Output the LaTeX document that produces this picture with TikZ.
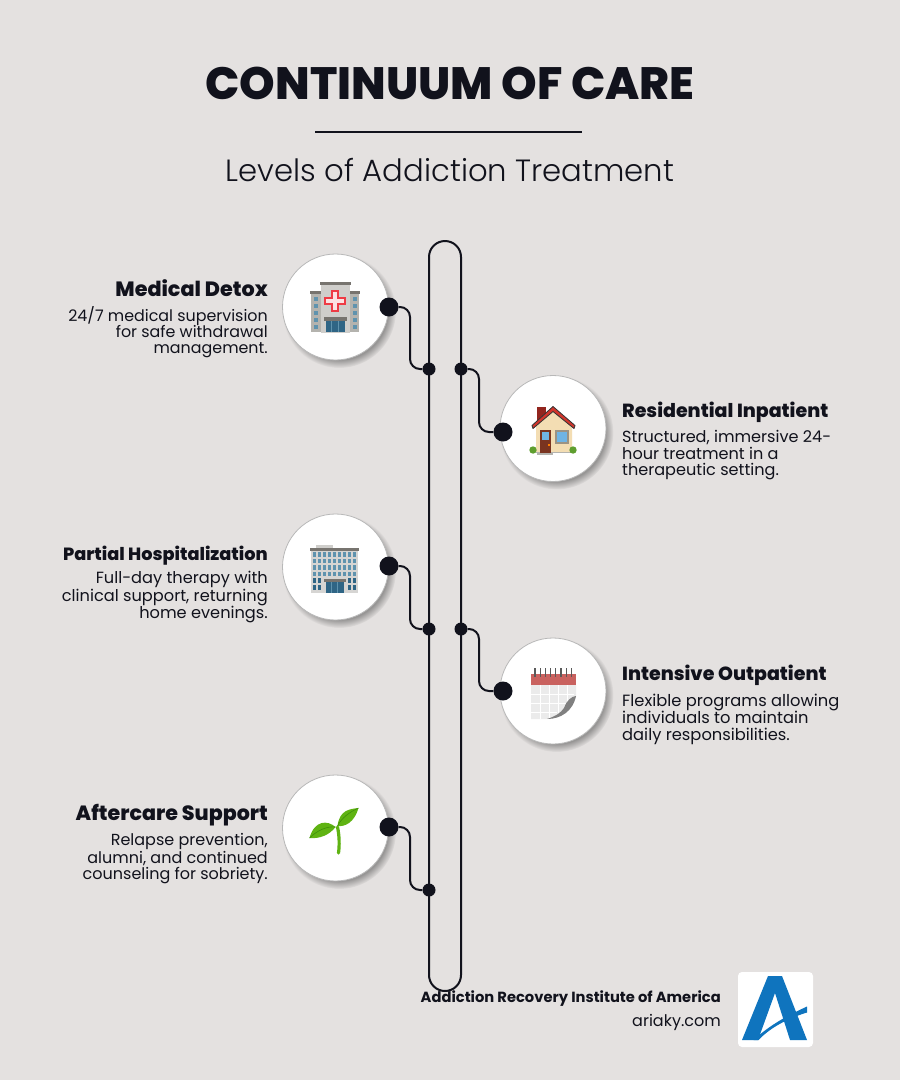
\documentclass[tikz,border=0pt]{standalone}
\usepackage{fontspec}
\setmainfont{Poppins}
\newfontfamily\titlefont{Poppins ExtraBold}
\newfontfamily\lightfont{Poppins Light}
\usetikzlibrary{calc}
\usetikzlibrary{shadows}
\definecolor{paperBg}{HTML}{E4E1E0}
\definecolor{inkDark}{HTML}{11121C}
\definecolor{logoBlue}{HTML}{0F74BE}
\definecolor{wallGrey}{HTML}{CFCECB}
\definecolor{wingGrey}{HTML}{B4B3AE}
\definecolor{roofGrey}{HTML}{77746F}
\definecolor{glassBlue}{HTML}{2F6585}
\definecolor{paneBlue}{HTML}{5F93AE}
\definecolor{crossRed}{HTML}{EE3B45}
\definecolor{roofRed}{HTML}{D1352B}
\definecolor{wallCream}{HTML}{F3DDB3}
\definecolor{doorBrown}{HTML}{7A3420}
\definecolor{skyBlue}{HTML}{6FB4E4}
\definecolor{bushGreen}{HTML}{5E9E2E}
\definecolor{calRed}{HTML}{C9625F}
\definecolor{calPaper}{HTML}{EBEBEB}
\definecolor{leafGreen}{HTML}{5FB312}
\definecolor{leafDark}{HTML}{3E8E0B}

\begin{document}
\begin{tikzpicture}[x=1pt, y=-1pt,
	iconCircle/.style={circle, draw=black!28, line width=0.8pt, fill=white, minimum size=106pt, inner sep=0pt,
		circular drop shadow={shadow xshift=3.5pt, shadow yshift=-4pt, shadow scale=1.07, opacity=0.5, fill=black!70}},
	portDot/.style={circle, fill=inkDark, minimum size=19pt, inner sep=0pt},
	tapDot/.style={circle, fill=inkDark, minimum size=13pt, inner sep=0pt},
	linkLine/.style={draw=inkDark, line width=2pt, rounded corners=10pt},
	headLeft/.style={anchor=east, inner sep=0pt, text=inkDark, font=\fontsize{#1}{20}\selectfont\titlefont},
	headRight/.style={anchor=west, inner sep=0pt, text=inkDark, font=\fontsize{#1}{20}\selectfont\titlefont},
	bodyLeft/.style={anchor=north east, inner sep=0pt, align=right, text=inkDark, font=\fontsize{#1}{16.3}\selectfont},
	bodyRight/.style={anchor=north west, inner sep=0pt, align=left, text=inkDark, font=\fontsize{#1}{16.3}\selectfont}]
	\useasboundingbox (0,0) rectangle (900,1080);
	\fill[paperBg] (0,0) rectangle (900,1080);

	% Title
	\node[inner sep=0pt, text=inkDark, font=\fontsize{45.3}{48}\selectfont\titlefont] (title) at (450,83) {CONTINUUM OF CARE};
	\coordinate (ruleL) at (315,132);
	\coordinate (ruleR) at (582,132);
	\draw[inkDark, line width=2pt] (ruleL) -- (ruleR);
	\node[inner sep=0pt, text=inkDark, font=\fontsize{30.7}{32}\selectfont\lightfont] (subtitle) at (450,170) {Levels of Addiction Treatment};

	% Track
	\node[draw=inkDark, line width=2pt, rounded corners=16pt, minimum width=32pt, minimum height=750pt, inner sep=0pt, outer sep=0pt] (track) at (445,616) {};

	% Tap dots on the track
	\node[tapDot] (detoxTap) at (429,369) {};
	\node[tapDot] (inpatientTap) at (461,369) {};
	\node[tapDot] (partialTap) at (429,629) {};
	\node[tapDot] (outpatientTap) at (461,629) {};
	\node[tapDot] (aftercareTap) at (429,890) {};

	% Circles
	\node[iconCircle] (detox) at (335.5,307) {};
	\node[iconCircle] (inpatient) at (553,428.5) {};
	\node[iconCircle] (partial) at (335.5,567) {};
	\node[iconCircle] (outpatient) at (553,691) {};
	\node[iconCircle] (aftercare) at (335.5,828) {};

	% Ports
	\node[portDot] (detoxPort) at (389,307) {};
	\node[portDot] (inpatientPort) at (503,432) {};
	\node[portDot] (partialPort) at (389,566) {};
	\node[portDot] (outpatientPort) at (503,691) {};
	\node[portDot] (aftercarePort) at (389,827) {};

	\draw[linkLine] (detoxPort) -| ($(detoxTap)+(-19,0)$) -- (detoxTap);
	\draw[linkLine] (inpatientTap) -| ($(inpatientTap)+(18,32)$) |- (inpatientPort);
	\draw[linkLine] (partialPort) -| ($(partialTap)+(-19,0)$) -- (partialTap);
	\draw[linkLine] (outpatientTap) -| ($(outpatientTap)+(18,32)$) |- (outpatientPort);
	\draw[linkLine] (aftercarePort) -| ($(aftercareTap)+(-19,0)$) -- (aftercareTap);

	% Hospital icon
	\begin{scope}[shift={(detox.center)}]
		\fill[wingGrey] (-25,-15) rectangle (23,25);
		\fill[roofGrey] (-26,-16) rectangle (24,-13);
		\fill[wallGrey] (-15,-24) rectangle (14,26);
		\fill[roofGrey] (-16,-25) rectangle (15,-22);
		\foreach \rowY in {-10,-3,4,11,18} {
			\fill[paneBlue] (-22,\rowY) rectangle (-18,\rowY+4);
			\fill[paneBlue] (17,\rowY) rectangle (21,\rowY+4);
		}
		\fill[crossRed] (-5,-17) rectangle (3,5);
		\fill[crossRed] (-12,-10) rectangle (10,-2);
		\fill[white!85!crossRed] (-3,-15) rectangle (1,3);
		\fill[white!85!crossRed] (-10,-8) rectangle (8,-4);
		\fill[roofGrey] (-12,10) rectangle (11,14);
		\fill[glassBlue] (-10,14) rectangle (9,25);
		\draw[paneBlue, line width=0.7pt] (-4,14) -- (-4,25) (3,14) -- (3,25);
	\end{scope}

	% House icon
	\begin{scope}[shift={(inpatient.center)}]
		\fill[roofRed!70!black] (-16,-22) rectangle (-7,-8);
		\fill[wallCream] (-17,-5) -- (0,-19) -- (19,-5) -- (19,24) -- (-17,24) -- cycle;
		\fill[wingGrey] (-17,23) rectangle (19,24);
		\fill[roofRed, draw=black!80, line width=0.8pt, line join=round] (-21,-3) -- (0,-22) -- (22,-3) -- (21,0) -- (0,-17) -- (-20,0) -- cycle;
		\fill[doorBrown] (-13,1) rectangle (-2,24);
		\fill[skyBlue] (-11,3) rectangle (-4,11);
		\fill[orange] (-5,15) rectangle (-3.5,17);
		\fill[roofGrey!70!wallCream] (2,1) rectangle (16,15);
		\fill[skyBlue] (4,3) rectangle (14,13);
		\fill[wingGrey] (-16,24) rectangle (0,26);
		\fill[bushGreen] (-20,21.5) circle (3.7);
		\fill[bushGreen] (20,21.5) circle (3.7);
	\end{scope}

	% Office icon
	\begin{scope}[shift={(partial.center)}]
		\fill[wallGrey] (-20,-22) rectangle (-3,-18);
		\fill[wallGrey!85!white] (-25,-18) rectangle (22,26);
		\fill[roofGrey] (-25.5,-19) rectangle (23,-16);
		\foreach \colX in {-21,-16,-11,-6,-1,4,9,14,19} {
			\foreach \rowY in {-13,-6.5,0,6.5} {
				\fill[paneBlue] (\colX-1.5,\rowY-2) rectangle (\colX+1.5,\rowY+2.5);
			}
		}
		\foreach \colX in {-21,-16,14,19} {
			\foreach \rowY in {13,20} {
				\fill[glassBlue] (\colX-1.5,\rowY-2) rectangle (\colX+1.5,\rowY+2.5);
			}
		}
		\fill[roofGrey] (-12,12) rectangle (10,15);
		\fill[glassBlue] (-10,15) rectangle (8,26);
		\draw[paneBlue, line width=0.7pt] (-4,15) -- (-4,26) (2,15) -- (2,26);
	\end{scope}

	% Calendar icon
	\begin{scope}[shift={(outpatient.center)}]
		\fill[calPaper] (-22,-6) -- (23,-6) -- (23,5) .. controls (18,18) and (8,26) .. (-6,28) -- (-22,28) -- cycle;
		\draw[white, line width=0.6pt] (-22,3) -- (21,3) (-22,12) -- (16,12) (-22,21) -- (4,21)
			(-13,-6) -- (-13,28) (-4,-6) -- (-4,27) (5,-6) -- (5,25) (14,-6) -- (14,16);
		\fill[calRed] (-22,-17) rectangle (23,-6);
		\fill[black!50] (23,5) .. controls (19,5) and (13,10) .. (11,17) .. controls (8,22) and (1,26) .. (-6,28) .. controls (8,28) and (20,20) .. cycle;
		\foreach \colX in {-18,-12.8,-7.6,-2.4,2.8,8,13.2,18.4} {
			\draw[black!65, line width=1.3pt] (\colX,-23) -- (\colX,-14);
		}
	\end{scope}

	% Sprout icon
	\begin{scope}[shift={(aftercare.center)}]
		\draw[leafGreen, line width=3.2pt, line cap=round] (2,-1) .. controls (4,8) and (4,18) .. (3,25);
		\fill[leafGreen] (0,-1) .. controls (-8,-8) and (-21,-8) .. (-26,10) .. controls (-16,11) and (-6,7) .. cycle;
		\draw[leafDark, line width=0.6pt] (0,-1) .. controls (-8,-2) and (-18,2) .. (-26,10);
		\fill[leafGreen] (2,-2) .. controls (10,-1) and (19,-6) .. (23,-20) .. controls (14,-19) and (4,-18) .. cycle;
		\draw[leafDark, line width=0.6pt] (2,-2) .. controls (6,-10) and (14,-16) .. (23,-20);
	\end{scope}

	% Left labels
	\node[headLeft=20.7] (detoxHead) at (268,288.5) {Medical Detox};
	\node[bodyLeft=15.9] (detoxText) at (268,306) {24/7 medical supervision\\for safe withdrawal\\management.};
	\node[headLeft=17.7] (partialHead) at (268,555.5) {Partial Hospitalization};
	\node[bodyLeft=16.2] (partialText) at (268,571) {Full-day therapy with\\clinical support, returning\\home evenings.};
	\node[headLeft=20.6] (aftercareHead) at (268,815.5) {Aftercare Support};
	\node[bodyLeft=16] (aftercareText) at (268,833.5) {Relapse prevention,\\alumni, and continued\\counseling for sobriety.};

	% Right labels
	\node[headRight=19] (inpatientHead) at (622,412.5) {Residential Inpatient};
	\node[bodyRight=16.1] (inpatientText) at (622,430.5) {Structured, immersive 24-\\hour treatment in a\\therapeutic setting.};
	\node[headRight=19] (outpatientHead) at (622,675.5) {Intensive Outpatient};
	\node[bodyRight=16.3] (outpatientText) at (622,693.5) {Flexible programs allowing\\individuals to maintain\\daily responsibilities.};

	% Footer
	\node[anchor=east, inner sep=0pt, text=inkDark, font=\fontsize{14.7}{16}\selectfont\bfseries] (orgName) at (721,998.5) {Addiction Recovery Institute of America};
	\node[anchor=east, inner sep=0pt, text=inkDark, font=\fontsize{16}{17}\selectfont] (orgSite) at (721,1022) {ariaky.com};
	\node[fill=white, rounded corners=4pt, minimum size=75pt, inner sep=0pt] (logo) at (775.5,1009.5) {};
	\begin{scope}[shift={(logo.center)}]
		\fill[logoBlue] (-7.5,-33.5) -- (6.5,-33.5) -- (31.5,30.5) -- (14.5,30.5) -- (-0.5,-16.5) -- (-17.5,30.5) -- (-33.5,30.5) -- cycle;
		\fill[logoBlue] (-22,30.5) .. controls (-5,15) and (12,6) .. (31.5,-3) -- (31.5,3) .. controls (12,9) and (-5,18) .. (-17,30.5) -- cycle;
	\end{scope}
\end{tikzpicture}
\end{document}
